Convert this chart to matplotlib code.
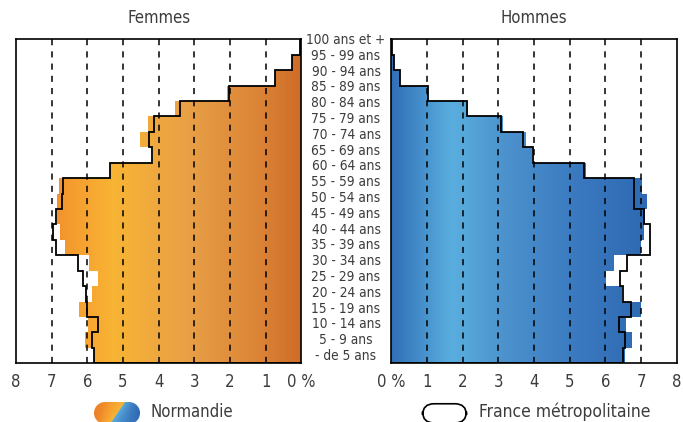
import matplotlib.pyplot as plt
import numpy as np
from matplotlib.colors import LinearSegmentedColormap
from matplotlib.patches import PathPatch, FancyBboxPatch
from matplotlib.path import Path
import matplotlib.transforms as mtransforms

# age groups, from youngest to oldest
ages = ["- de 5 ans", "5 - 9 ans", "10 - 14 ans", "15 - 19 ans", "20 - 24 ans",
        "25 - 29 ans", "30 - 34 ans", "35 - 39 ans", "40 - 44 ans", "45 - 49 ans",
        "50 - 54 ans", "55 - 59 ans", "60 - 64 ans", "65 - 69 ans", "70 - 74 ans",
        "75 - 79 ans", "80 - 84 ans", "85 - 89 ans", "90 - 94 ans", "95 - 99 ans",
        "100 ans et +"]

# % of population (Normandie)
norm_f = [5.82, 6.06, 5.98, 6.24, 5.88, 5.71, 5.95, 6.63, 6.77, 6.85, 6.84,
          6.79, 5.36, 4.16, 4.51, 4.30, 3.53, 2.08, 0.73, 0.26, 0.03]
norm_h = [6.55, 6.74, 6.58, 7.00, 6.46, 6.02, 6.23, 7.00, 7.09, 7.12, 7.17,
          7.02, 5.45, 3.95, 3.77, 3.12, 2.16, 1.02, 0.25, 0.07, 0.01]
# % of population (France metropolitaine)
fr_f = [5.80, 5.86, 5.70, 6.00, 6.05, 6.11, 6.27, 6.88, 6.96, 6.88, 6.72,
        6.67, 5.36, 4.18, 4.28, 4.13, 3.41, 2.02, 0.73, 0.26, 0.03]
fr_h = [6.49, 6.55, 6.39, 6.71, 6.50, 6.41, 6.60, 7.26, 7.26, 7.08, 6.79,
        6.79, 5.40, 3.98, 3.69, 3.07, 2.11, 1.02, 0.25, 0.07, 0.01]

xticks = [0, 1, 2, 3, 4, 5, 6, 7, 8]
xlabels = ["0 %", "1", "2", "3", "4", "5", "6", "7", "8"]

W, H = 683, 422
txt = "#3c3c3c"
font = dict(family="DejaVu Sans", stretch="condensed")

orange = LinearSegmentedColormap.from_list("orange", [
    (0.0, "#cf6c28"), (0.15, "#db8436"), (0.4, "#e8a046"),
    (0.66, "#f8b434"), (0.8, "#f59e2f"), (0.9, "#ef8a2a"), (1.0, "#ec8028")])
blue = LinearSegmentedColormap.from_list("blue", [
    (0.0, "#3170b7"), (0.21, "#5aaedf"), (0.4, "#4c92cd"),
    (0.65, "#3a79bf"), (0.9, "#2e69b2"), (1.0, "#2c64ae")])


def px(x0, y0, x1, y1):
    return [x0 / W, 1 - y1 / H, (x1 - x0) / W, (y1 - y0) / H]


fig = plt.figure(figsize=(W / 100, H / 100), dpi=100)
axf = fig.add_axes(px(16, 39.3, 301.3, 363.3))
axh = fig.add_axes(px(391.3, 39.3, 676.7, 363.3))

pos = np.arange(len(ages))
edges = np.arange(len(ages) + 1) - 0.5

for ax, vals, fr, cmap, title in [(axf, norm_f, fr_f, orange, "Femmes"),
                                  (axh, norm_h, fr_h, blue, "Hommes")]:
    bars = ax.barh(pos, vals, height=1.0, color="none", edgecolor="none")
    path = Path.make_compound_path(
        *[b.get_path().transformed(b.get_patch_transform()) for b in bars])
    clip = PathPatch(path, transform=ax.transData, facecolor="none", edgecolor="none")
    ax.add_patch(clip)
    grad = np.tile(np.linspace(0, 1, 400), (2, 1))
    im = ax.imshow(grad, cmap=cmap, aspect="auto", extent=(0, 8, -0.5, 20.5),
                   origin="lower", interpolation="bilinear", zorder=1)
    im.set_clip_path(clip)

    ax.stairs(fr, edges, orientation="horizontal", baseline=0,
              color="black", lw=1.3, zorder=4)
    for g in range(1, 8):
        ax.axvline(g, color="black", lw=1.1, ls=(0, (4, 4)), zorder=3)

    ax.set_xlim(0, 8)
    ax.set_ylim(-0.5, 20.5)
    ax.set_yticks([])
    ax.set_xticks(xticks, xlabels, color=txt, fontsize=12, **font)
    ax.tick_params(axis="x", length=0, pad=7)
    for s in ax.spines.values():
        s.set_linewidth(1.2)
    ax.set_title(title, color=txt, fontsize=12, pad=12, **font)

axf.invert_xaxis()

# age labels in the middle
trans = mtransforms.blended_transform_factory(fig.transFigure, axf.transData)
for i, lab in enumerate(ages):
    fig.text(346 / W, -0.03 + i * 1.024, lab, transform=trans, ha="center",
             va="center", fontsize=9.8, color=txt, **font)

# legend: Normandie icon (pill, orange left / blue right, diagonal split)
iw, ih, k = 46, 22, 6
yy, xx = np.mgrid[0:ih * k, 0:iw * k] + 0.5
xx, yy = xx / k, yy / k  # pixel units, y down
r = ih / 2
cx = np.clip(xx, r, iw - r)
inside = (xx - cx) ** 2 + (yy - r) ** 2 <= r ** 2
split = 16 + (31 - 16) * (1 - yy / ih)  # x of the diagonal
rgba = np.zeros(xx.shape + (4,))
left = xx < split
rgba[left] = orange(1 - 0.35 * xx[left] / split[left])
rgba[~left] = blue(0.21 + 0.7 * (xx[~left] - split[~left]) / (iw - split[~left]))
rgba[..., 3] = inside
ic1 = fig.add_axes(px(94, 402, 140, 424))
ic1.imshow(rgba, extent=(0, 1, 0, 1), aspect="auto", interpolation="antialiased")
ic1.axis("off")

ic2 = fig.add_axes(px(421.7, 402.7, 467.3, 424))
ic2.set_xlim(0, 1)
ic2.set_ylim(0, 1)
ic2.axis("off")
ic2.add_patch(FancyBboxPatch((0.02, 0.05), 0.96, 0.9, boxstyle="round,pad=0,rounding_size=0.25",
                             mutation_aspect=2.1, facecolor="white", edgecolor="black", lw=1.2,
                             clip_on=False))

fig.text(150 / W, 1 - 412 / H, "Normandie", ha="left", va="center",
         fontsize=12, color=txt, **font)
fig.text(479 / W, 1 - 412 / H, "France métropolitaine", ha="left", va="center",
         fontsize=12.5, color=txt, **font)

fig.savefig("out.png", dpi=100)
